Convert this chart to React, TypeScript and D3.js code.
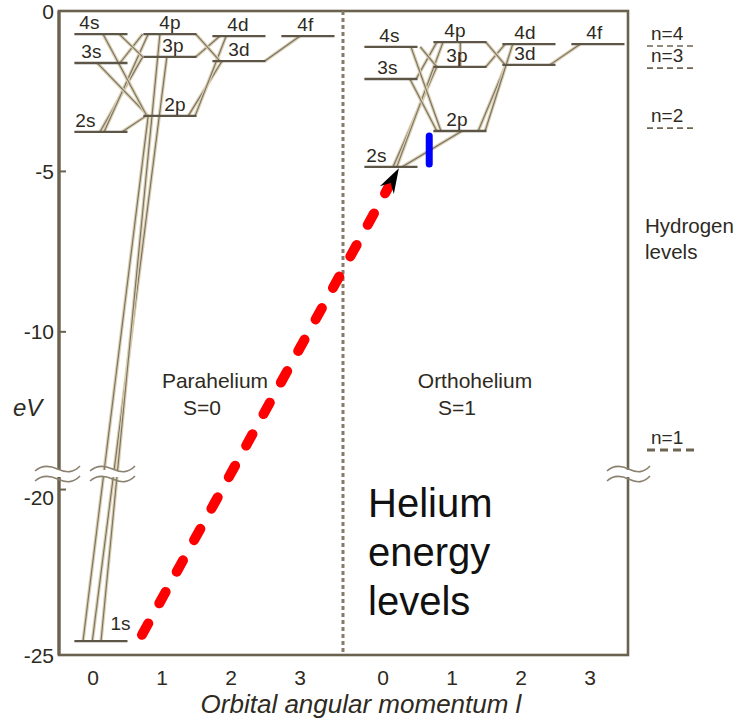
import React from "react";
import * as d3 from "d3";

// ---------- data ----------
const paraLevels = [
  { name: "1s", l: 0, e: -24.58 },
  { name: "2s", l: 0, e: -3.77 },
  { name: "3s", l: 0, e: -1.62 },
  { name: "4s", l: 0, e: -0.72 },
  { name: "2p", l: 1, e: -3.27 },
  { name: "3p", l: 1, e: -1.43 },
  { name: "4p", l: 1, e: -0.72 },
  { name: "3d", l: 2, e: -1.56 },
  { name: "4d", l: 2, e: -0.78 },
  { name: "4f", l: 3, e: -0.78 },
];

const orthoLevels = [
  { name: "2s", l: 0, e: -4.86 },
  { name: "3s", l: 0, e: -2.12 },
  { name: "4s", l: 0, e: -1.12 },
  { name: "2p", l: 1, e: -3.74 },
  { name: "3p", l: 1, e: -1.74 },
  { name: "4p", l: 1, e: -0.97 },
  { name: "3d", l: 2, e: -1.68 },
  { name: "4d", l: 2, e: -1.03 },
  { name: "4f", l: 3, e: -1.03 },
];

const hydrogenLevels = [
  { name: "n=4", e: -1.09 },
  { name: "n=3", e: -1.78 },
  { name: "n=2", e: -3.65 },
  { name: "n=1", e: -13.68 },
];

// [from level, position along l axis, to level, position along l axis]
const paraTransitions: [string, number, string, number][] = [
  ["1s", -0.145, "2p", 0.8],
  ["1s", -0.01, "3p", 1.07],
  ["1s", 0.116, "4p", 0.97],
  ["2s", 0.1, "3p", 0.72],
  ["2s", 0.16, "4p", 0.8],
  ["2s", 0.42, "2p", 0.77],
  ["3s", 0.06, "2p", 0.8],
  ["3s", 0.39, "4p", 0.72],
  ["4s", 0.145, "2p", 0.78],
  ["4s", 0.38, "3p", 0.72],
  ["2p", 1.38, "3d", 1.87],
  ["2p", 1.48, "4d", 1.93],
  ["3p", 1.49, "4d", 1.84],
  ["4p", 1.49, "3d", 1.84],
  ["3d", 2.49, "4f", 3.0],
];

const orthoTransitions: [string, number, string, number][] = [
  ["2s", 0.145, "3p", 0.78],
  ["2s", 0.2, "4p", 0.87],
  ["2s", 0.275, "2p", 1.145],
  ["3s", 0.39, "2p", 0.78],
  ["3s", 0.48, "4p", 0.78],
  ["4s", 0.405, "2p", 0.84],
  ["4s", 0.54, "3p", 0.78],
  ["2p", 1.38, "3d", 1.78],
  ["2p", 1.48, "4d", 1.88],
  ["3p", 1.49, "4d", 1.77],
  ["4p", 1.49, "3d", 1.77],
  ["3d", 2.42, "4f", 2.86],
  ["4p", 1.12, "3p", 1.12],
];

// blue line: ortho 2s <-> 2p at l position
const blueTransition = { from: "2p", to: "2s", l: 0.67 };

// red dashed arrow: from para (l, eV) to ortho (l, eV)
const redArrowStart = { l: 0.71, e: -24.39 };
const redArrowEnd = { l: 0.23, e: -4.9 };

const yTicks = [0, -5, -10, -20, -25];
const xTicks = [0, 1, 2, 3];

// ---------- component ----------
const FRAME = "#6a614f";
const LEVEL = "#5d5646";
const TEXT = "#2e2a22";
const FONT = "'Liberation Sans', Arial, Helvetica, sans-serif";

const labelDx: Record<string, Record<string, number>> = {
  para: { "4s": 5, "3s": 7, "2s": 1, "2p": 21, "3p": 19, "4p": 16, "3d": 16, "4d": 15, "4f": 16 },
  ortho: { "4s": 15, "3s": 13, "2s": 2, "2p": 13, "3p": 13, "4p": 11, "3d": 12, "4d": 12, "4f": 15 },
};

function wavePath(x0: number, x1: number, yc: number) {
  const w = x1 - x0;
  const p = d3.path();
  p.moveTo(x0, yc + 2);
  p.bezierCurveTo(x0 + w * 0.15, yc - 4, x0 + w * 0.3, yc - 4, x0 + w * 0.5, yc);
  p.bezierCurveTo(x0 + w * 0.7, yc + 4, x0 + w * 0.85, yc + 4, x1, yc - 3);
  return p.toString();
}

export default function App() {
  const y = d3.scaleLinear().domain([0, -14.4, -19.5, -25]).range([11, 473, 473, 655]);
  const xP = d3.scaleLinear().domain([0, 3]).range([93, 300]);
  const xO = d3.scaleLinear().domain([0, 3]).range([383, 590]);

  const left = 59, right = 628, top = 11, bottom = 655;
  const breakY = 473;

  const panels = [
    { key: "para", x: xP, levels: paraLevels, trans: paraTransitions },
    { key: "ortho", x: xO, levels: orthoLevels, trans: orthoTransitions },
  ];

  const find = (levels: { name: string; e: number }[], n: string) => levels.find((d) => d.name === n)!;

  // red arrow geometry
  const rx1 = xP(redArrowStart.l), ry1 = y(redArrowStart.e);
  const rx2 = xO(redArrowEnd.l), ry2 = y(redArrowEnd.e);
  const len = Math.hypot(rx2 - rx1, ry2 - ry1);
  const ux = (rx2 - rx1) / len, uy = (ry2 - ry1) / len;
  const headLen = 22, headW = 8;
  const bx = rx2 - ux * headLen, by = ry2 - uy * headLen;
  const px = -uy, py = ux;
  const head = [
    [rx2, ry2],
    [bx + px * headW - ux * 3, by + py * headW - uy * 3],
    [bx + ux * 5, by + uy * 5],
    [bx - px * headW - ux * 3, by - py * headW - uy * 3],
  ];

  const blueX = xO(blueTransition.l);
  const blueY1 = y(find(orthoLevels, blueTransition.from).e) + 5;
  const blueY2 = y(find(orthoLevels, blueTransition.to).e) - 3;

  return (
    <svg
      width={745}
      height={725}
      style={{ position: "absolute", left: 0, top: 0, background: "#fff" }}
      fontFamily={FONT}
    >
      <rect x={0} y={0} width={745} height={725} fill="#fff" />

      {/* transitions */}
      {panels.map((p) => (
        <g key={p.key + "t"}>
          {p.trans.map(([f, fl, t, tl], i) => {
            const a = find(p.levels, f), b = find(p.levels, t);
            return (
              <g key={i}>
                <line x1={p.x(fl)} y1={y(a.e)} x2={p.x(tl)} y2={y(b.e)} stroke="#dccfae" strokeWidth={3.4} />
                <line x1={p.x(fl)} y1={y(a.e)} x2={p.x(tl)} y2={y(b.e)} stroke="#76716a" strokeWidth={1.1} />
              </g>
            );
          })}
        </g>
      ))}

      {/* levels */}
      {panels.map((p) => (
        <g key={p.key + "l"}>
          {p.levels.map((d) => {
            const x0 = p.x(d.l - 0.27), x1 = p.x(d.l + 0.5);
            const yy = y(d.e);
            const is1s = d.name === "1s";
            return (
              <g key={d.name}>
                <line x1={x0} y1={yy} x2={x1} y2={yy} stroke={LEVEL} strokeWidth={2.3} />
                <text
                  x={is1s ? x1 - 17 : x0 + labelDx[p.key][d.name]}
                  y={is1s ? yy - 11 : yy - 5}
                  fontSize={19}
                  fill={TEXT}
                >
                  {d.name}
                </text>
              </g>
            );
          })}
        </g>
      ))}

      {/* frame */}
      <rect x={left} y={top} width={right - left} height={bottom - top} fill="none" stroke={FRAME} strokeWidth={2.6} />
      <line x1={left} y1={top} x2={left} y2={bottom} stroke={FRAME} strokeWidth={3.2} />
      <line x1={343} y1={top} x2={343} y2={bottom} stroke="#857b68" strokeWidth={3} strokeDasharray="4 3" />

      {/* y ticks */}
      {yTicks.map((t) => (
        <g key={t}>
          {t !== 0 && t !== -25 && (
            <line x1={left} x2={left + 7} y1={y(t)} y2={y(t)} stroke={FRAME} strokeWidth={2} />
          )}
          <text
            x={54}
            y={y(t) + (t === -20 ? 8 : 0)}
            dy="0.36em"
            textAnchor="end"
            fontSize={21}
            fill={TEXT}
          >
            {t}
          </text>
        </g>
      ))}

      {/* x ticks */}
      {[xP, xO].map((sx, j) =>
        xTicks.map((t) => (
          <text key={j + "-" + t} x={sx(t)} y={685} textAnchor="middle" fontSize={21} fill={TEXT}>
            {t}
          </text>
        ))
      )}

      {/* breaks */}
      {[
        [35, 80],
        [90, 135],
        [607, 650],
      ].map(([a, b], i) => (
        <g key={"br" + i}>
          <rect x={a + 3} y={breakY - 3} width={b - a - 6} height={7} fill="#fff" />
          <path d={wavePath(a, b, breakY - 4)} fill="none" stroke="#8a816e" strokeWidth={1.6} />
          <path d={wavePath(a, b, breakY + 6)} fill="none" stroke="#8a816e" strokeWidth={1.6} />
        </g>
      ))}

      {/* hydrogen levels */}
      {hydrogenLevels.map((h) => (
        <g key={h.name}>
          <line
            x1={647}
            x2={697}
            y1={y(h.e)}
            y2={y(h.e)}
            stroke="#6d6452"
            strokeWidth={h.name === "n=1" ? 3 : 1.6}
            strokeDasharray={h.name === "n=1" ? "8 5" : "6 4"}
          />
          <text x={651} y={y(h.e) - 6} fontSize={19} fill={TEXT}>
            {h.name}
          </text>
        </g>
      ))}
      <text x={645} y={233} fontSize={20.5} fill={TEXT}>Hydrogen</text>
      <text x={645} y={259} fontSize={20.5} fill={TEXT}>levels</text>

      {/* panel labels */}
      <text x={215} y={388} textAnchor="middle" fontSize={21} fill={TEXT}>Parahelium</text>
      <text x={183} y={415} fontSize={21} fill={TEXT}>S=0</text>
      <text x={475} y={388} textAnchor="middle" fontSize={21} fill={TEXT}>Orthohelium</text>
      <text x={438} y={415} fontSize={21} fill={TEXT}>S=1</text>

      <text x={368} y={517} fontSize={40} fill="#111">Helium</text>
      <text x={368} y={566} fontSize={40} fill="#111">energy</text>
      <text x={368} y={615} fontSize={40} fill="#111">levels</text>

      {/* axis titles */}
      <text x={13} y={416} fontSize={24} fontStyle="italic" fill={TEXT}>eV</text>
      <text x={361} y={713} textAnchor="middle" fontSize={26} fontStyle="italic" fill={TEXT}>
        Orbital angular momentum l
      </text>

      {/* red dashed arrow */}
      <line
        x1={rx1}
        y1={ry1}
        x2={bx}
        y2={by}
        stroke="#ff0000"
        strokeWidth={10}
        strokeLinecap="round"
        strokeDasharray="13 23"
      />
      <polygon points={head.map((p) => p.join(",")).join(" ")} fill="#000" />

      {/* blue transition */}
      <line x1={blueX} x2={blueX} y1={blueY1} y2={blueY2} stroke="#0000ff" strokeWidth={7} strokeLinecap="round" />
    </svg>
  );
}
